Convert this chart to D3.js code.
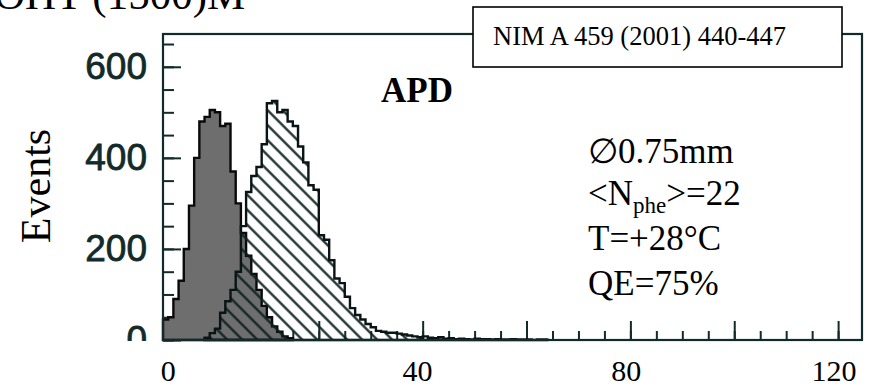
<!DOCTYPE html>
<html><head><meta charset="utf-8">
<script src="https://cdn.jsdelivr.net/npm/d3@7"></script>
<style>body{margin:0;background:#fff;} svg{display:block;} .serif{font-family:"Liberation Serif","Times New Roman",Times,serif;}</style>
</head><body>
<svg id="c" width="870" height="387"></svg>
<script>
// ---- data ----
const titleText = "OHT (1500)M";
const refText = "NIM A 459 (2001) 440-447";
const panelLabel = "APD";
const yLabel = "Events";
const infoLines = ["\u22050.75mm", "<N|phe|>=22", "T=+28\u00B0C", "QE=75%"];
// gray (noise / pedestal) histogram, unit-width bins starting at grayStart
const grayStart = -10;
const grayCounts = [45,50,90,130,200,295,400,480,490,505,500,470,475,370,300,235,185,145,110,75,50,30,18,8,4];
// hatched (signal) histogram
const hatchStart = -2;
const hatchCounts = [5,15,25,60,85,110,150,250,325,360,380,430,520,525,500,505,480,470,425,390,340,330,230,220,175,135,125,95,70,55,45,35,28,20,18,16,16,14,12,10,8,6,8,5,4,6,3,4,2,3,2,1,3,2,2,1,2,1,1,2,1,1,1,0,1,1];
const yTickValues = [0,200,400,600];
const yMinorTicks = d3.range(0, 675, 50);
const xMajorTicks = d3.range(0, 121, 20);
const xMinorTicks = d3.range(-5, 124, 5);
const xTickLabels = ["0","40","80","120"];
const xTickLabelAt = [-9, 39, 79.2, 119.2];

// ---- layout ----
const L = 163, R = 862, T = 34, B = 340;
const svg = d3.select("#c");
const x = d3.scaleLinear().domain([-10, 124.6]).range([L, R]);
const y = d3.scaleLinear().domain([0, 672]).range([B, T]);
const ink = "#122a2a";
const sans = "Liberation Sans, Arial, sans-serif";

const defs = svg.append("defs");
const pat = defs.append("pattern").attr("id","hatch").attr("patternUnits","userSpaceOnUse")
  .attr("width",10.6).attr("height",10.6).attr("patternTransform","rotate(45)");
pat.append("line").attr("x1",0).attr("y1",5.3).attr("x2",10.6).attr("y2",5.3)
  .attr("stroke","#0d2020").attr("stroke-width",2.2);
defs.append("clipPath").attr("id","yclip").append("rect")
  .attr("x",0).attr("y",0).attr("width",L).attr("height",B+1);

function tickAxis(axis, vals, size, g) {
  g.call(axis.tickValues(vals).tickSize(size).tickFormat(""));
  g.select(".domain").remove();
  g.selectAll(".tick line").attr("stroke", ink).attr("stroke-width", 2);
}
tickAxis(d3.axisBottom(x), xMinorTicks, -9, svg.append("g").attr("transform",`translate(0,${B})`));
tickAxis(d3.axisBottom(x), xMajorTicks, -19, svg.append("g").attr("transform",`translate(0,${B})`));
tickAxis(d3.axisLeft(y), yMinorTicks, -11, svg.append("g").attr("transform",`translate(${L},0)`));
tickAxis(d3.axisLeft(y), yTickValues, -18, svg.append("g").attr("transform",`translate(${L},0)`));

function histPoints(start, counts) {
  const pts = counts.map((c,i)=>({x:start+i, c}));
  pts.push({x:start+counts.length, c:0});
  return pts;
}
const area = d3.area().curve(d3.curveStepAfter).x(d=>x(d.x)).y0(y(0)).y1(d=>y(d.c));
svg.append("path").datum(histPoints(grayStart, grayCounts)).attr("d", area)
  .attr("fill","#6e6e6e").attr("stroke","#0a0a0a").attr("stroke-width",2.4);
svg.append("path").datum(histPoints(hatchStart, hatchCounts)).attr("d", area)
  .attr("fill","url(#hatch)").attr("stroke","#0a1414").attr("stroke-width",2.4);

svg.append("rect").attr("x",L).attr("y",T).attr("width",R-L).attr("height",B-T)
  .attr("fill","none").attr("stroke",ink).attr("stroke-width",2.2);

// y tick labels (bottom of "0" hidden below the axis)
const yClip = svg.append("g").attr("clip-path","url(#yclip)");
const yl = yClip.append("g").attr("transform",`translate(${L},0)`)
  .call(d3.axisLeft(y).tickValues(yTickValues).tickSize(0).tickPadding(16));
yl.select(".domain").remove();
yl.selectAll("text").attr("font-family",sans).attr("font-size",37).attr("fill",ink)
  .attr("stroke",ink).attr("stroke-width",0.8);

// x tick labels (overlay)
svg.append("g").selectAll("text").data(xTickLabels).join("text").attr("class","serif")
  .attr("x",(d,i)=>x(xTickLabelAt[i])).attr("y",381).attr("text-anchor","middle")
  .attr("font-size",30).attr("fill","#000").text(d=>d);

svg.append("text").attr("class","serif").attr("transform","translate(50,186) rotate(-90)")
  .attr("text-anchor","middle").attr("font-size",42).attr("fill","#000").text(yLabel);

svg.append("text").attr("class","serif").attr("x",-6).attr("y",9).attr("font-size",43)
  .attr("fill","#000").text(titleText);

svg.append("rect").attr("x",473).attr("y",7).attr("width",369).attr("height",60)
  .attr("fill","#fff").attr("stroke","#000").attr("stroke-width",1.6);
svg.append("text").attr("class","serif").attr("x",493).attr("y",45).attr("font-size",26.5)
  .attr("fill","#000").text(refText);

svg.append("text").attr("class","serif").attr("x",381).attr("y",102).attr("font-size",35)
  .attr("font-weight","bold").attr("fill","#000").text(panelLabel);

const baselines = [163, 205, 250, 295];
infoLines.forEach((s,i)=>{
  const t = svg.append("text").attr("class","serif").attr("x",588).attr("y",baselines[i])
    .attr("font-size",35).attr("fill","#000");
  const parts = s.split("|");
  if (parts.length === 3) {
    t.append("tspan").text(parts[0]);
    t.append("tspan").attr("font-size",23).attr("dy",8).text(parts[1]);
    t.append("tspan").attr("dy",-8).text(parts[2]);
  } else t.text(s);
});
</script>
</body></html>
